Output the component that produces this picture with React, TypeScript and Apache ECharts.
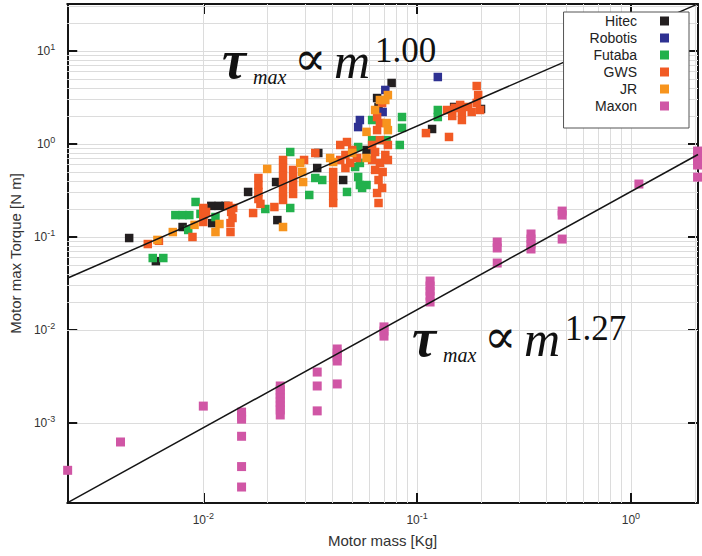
import React, { useEffect, useRef } from "react";
import * as echarts from "echarts";

// Axis extents (log scales)
const X_MIN = 0.00231;
const X_MAX = 2.06;
const Y_MIN = 1.38e-4;
const Y_MAX = 32;

// [mass kg, max torque N m]
const hitec: number[][] = [
  [0.0045, 0.0975], [0.006, 0.055], [0.008, 0.128], [0.0109, 0.216], [0.0118, 0.216],
  [0.0127, 0.216], [0.011, 0.141], [0.0162, 0.305], [0.0219, 0.39], [0.0222, 0.152],
  [0.0341, 0.552], [0.0345, 0.8], [0.0451, 0.41], [0.058, 0.862], [0.065, 3.12],
  [0.066, 2.5], [0.076, 4.53], [0.1175, 1.45], [0.149, 2.5], [0.199, 2.38],
];
const robotis: number[][] = [
  [0.053, 1.52], [0.054, 1.81], [0.069, 2.21], [0.071, 3.81], [0.125, 5.25],
];
const futaba: number[][] = [
  [0.0058, 0.0594], [0.0065, 0.0594], [0.0074, 0.172], [0.008, 0.172], [0.0086, 0.172],
  [0.0085, 0.119], [0.0092, 0.238], [0.0097, 0.177], [0.0114, 0.164], [0.0195, 0.2],
  [0.0255, 0.205], [0.0255, 0.82], [0.0313, 0.283], [0.0334, 0.431], [0.036, 0.41],
  [0.047, 0.305], [0.053, 0.442], [0.054, 0.362], [0.058, 0.362], [0.0553, 0.337],
  [0.0513, 0.566], [0.0616, 1.1], [0.0616, 1.81], [0.053, 0.928], [0.054, 0.625],
  [0.072, 1.1], [0.083, 0.976], [0.085, 1.49], [0.085, 1.95], [0.125, 2.32], [0.125, 1.95],
];
const gws: number[][] = [
  [0.0055, 0.084], [0.0062, 0.091], [0.0089, 0.1], [0.01, 0.205], [0.01, 0.172],
  [0.01, 0.145], [0.0103, 0.186], [0.0131, 0.216], [0.0135, 0.186], [0.0137, 0.16],
  [0.0138, 0.205], [0.0134, 0.141], [0.0134, 0.113], [0.0171, 0.181], [0.0181, 0.431],
  [0.0181, 0.362], [0.0181, 0.305], [0.0181, 0.256], [0.0185, 0.227], [0.0215, 0.21],
  [0.0236, 0.673], [0.0236, 0.552], [0.0236, 0.453], [0.0236, 0.371], [0.0236, 0.305],
  [0.0236, 0.25], [0.0263, 0.526], [0.0263, 0.431], [0.0263, 0.353], [0.0263, 0.29],
  [0.0296, 0.673], [0.0334, 0.8], [0.0405, 0.5], [0.0405, 0.41], [0.0405, 0.337],
  [0.0405, 0.276], [0.0405, 0.232], [0.0437, 0.976], [0.047, 1.05], [0.0497, 0.862],
  [0.0462, 0.762], [0.0437, 0.673], [0.0486, 0.625], [0.0524, 0.707], [0.0462, 0.552],
  [0.0616, 0.976], [0.067, 1.1], [0.073, 0.976], [0.0636, 0.82], [0.071, 0.762],
  [0.0616, 0.673], [0.067, 0.625], [0.073, 0.673], [0.0636, 0.526], [0.069, 0.5],
  [0.066, 0.41], [0.0686, 0.337], [0.065, 0.297], [0.066, 0.232], [0.065, 1.95],
  [0.067, 1.68], [0.065, 1.41], [0.0686, 2.76], [0.11, 1.31], [0.141, 1.19],
  [0.138, 2.32], [0.146, 2.0], [0.15, 2.44], [0.159, 2.63], [0.162, 2.21],
  [0.162, 1.81], [0.173, 2.5], [0.18, 2.21], [0.19, 2.76], [0.193, 3.36],
  [0.197, 2.32], [0.19, 4.2],
];
const jr: number[][] = [
  [0.0061, 0.093], [0.0072, 0.113], [0.0091, 0.135], [0.0119, 0.138], [0.0114, 0.113],
  [0.0236, 0.128], [0.0199, 0.539], [0.0284, 0.625], [0.0293, 0.39], [0.029, 0.5],
  [0.0392, 0.707], [0.0405, 0.64], [0.0497, 0.8], [0.058, 0.707], [0.058, 1.35],
  [0.0636, 2.32], [0.072, 1.68], [0.073, 1.41], [0.073, 3.36], [0.067, 2.97], [0.071, 2.97],
];
const maxon: number[][] = [
  [0.00232, 3.1e-4], [0.0041, 6.25e-4], [0.01, 1.52e-3],
  [0.0151, 1.31e-3], [0.0151, 1.19e-3], [0.0151, 1.1e-3], [0.0151, 7.2e-4], [0.0151, 3.4e-4], [0.0151, 2.05e-4],
  [0.0229, 2.5e-3], [0.0229, 2.27e-3], [0.0229, 2.05e-3], [0.0229, 1.86e-3], [0.0229, 1.68e-3],
  [0.0229, 1.52e-3], [0.0229, 1.38e-3], [0.0229, 1.22e-3],
  [0.0341, 3.53e-3], [0.0341, 2.5e-3], [0.0341, 1.35e-3],
  [0.0423, 6.25e-3], [0.0423, 5.66e-3], [0.0423, 5.13e-3], [0.0423, 4.64e-3], [0.0423, 2.63e-3],
  [0.07, 0.0108], [0.07, 0.00975], [0.07, 0.0086],
  [0.115, 0.0336], [0.115, 0.0297], [0.115, 0.0262], [0.115, 0.0232], [0.115, 0.02],
  [0.237, 0.0883], [0.237, 0.0762], [0.237, 0.0525],
  [0.341, 0.1077], [0.341, 0.095], [0.341, 0.084], [0.341, 0.0743],
  [0.477, 0.19], [0.477, 0.172], [0.477, 0.095],
  [1.09, 0.371],
  [2.05, 0.84], [2.05, 0.74], [2.05, 0.66], [2.05, 0.594], [2.05, 0.44],
];

const SERIES_NAMES = ["Hitec", "Robotis", "Futaba", "GWS", "JR", "Maxon"];
const SERIES_DATA = [hitec, robotis, futaba, gws, jr, maxon];
const SERIES_COLORS = ["#231f20", "#2e3192", "#22b14c", "#f15a24", "#f7941d", "#d056a5"];

// Power-law fits: tau = coef * m^exp
const FIT_SERVO = { coef: 15.6, exp: 1.0 };
const FIT_MAXON = { coef: 0.308, exp: 1.27 };

const SANS = '"Liberation Sans", Arial, Helvetica, sans-serif';
const SERIF = '"Liberation Serif", "DejaVu Serif", serif';
const GRID_COLOR = "#dcdcdc";
const AXIS_COLOR = "#151515";

function fitLine(f: { coef: number; exp: number }) {
  return [X_MIN, X_MAX].map((m) => [m, f.coef * Math.pow(m, f.exp)]);
}

function minorValues(lo: number, hi: number) {
  const out: number[] = [];
  for (let e = -6; e <= 3; e++) {
    for (let k = 2; k <= 9; k++) {
      const v = k * Math.pow(10, e);
      if (v > lo && v < hi) out.push(v);
    }
  }
  return out;
}

function expLabel(v: number) {
  const e = Math.round(Math.log10(v));
  return `{b|10}{s|${e}}`;
}

const labelRich = {
  b: { fontSize: 12, fontFamily: SANS, color: "#333" },
  s: { fontSize: 9, fontFamily: SANS, color: "#333", padding: [0, 0, 8, 0] },
};

function annotation(x0: number, base: number, expo: string) {
  const fill = "#111";
  return [
    { type: "text", x: x0, y: base - 17.7, z: 100,
      style: { text: "τ", fontFamily: SERIF, fontSize: 54, fontStyle: "italic", fontWeight: "bold", fill, verticalAlign: "middle", align: "left" } },
    { type: "text", x: x0 + 31, y: base + 6 - 6.8, z: 100,
      style: { text: "max", fontFamily: SERIF, fontSize: 20, fontStyle: "italic", fill, verticalAlign: "middle", align: "left" } },
    { type: "text", x: x0 + 72, y: base - 20, z: 100,
      style: { text: "∝", fontFamily: '"DejaVu Serif", serif', fontSize: 48, fill, verticalAlign: "middle", align: "left" } },
    { type: "text", x: x0 + 112, y: base - 17, z: 100,
      style: { text: "m", fontFamily: SERIF, fontSize: 50, fontStyle: "italic", fill, verticalAlign: "middle", align: "left" } },
    { type: "text", x: x0 + 153, y: base - 16 - 11.5, z: 100,
      style: { text: expo, fontFamily: SERIF, fontSize: 35, fill, verticalAlign: "middle", align: "left" } },
  ];
}

export default function App() {
  const ref = useRef<HTMLDivElement>(null);

  useEffect(() => {
    if (!ref.current) return;
    const chart = echarts.init(ref.current, undefined, { renderer: "svg" });

    const xBase: any = {
      type: "log",
      logBase: 10,
      min: X_MIN,
      max: X_MAX,
      axisLine: { show: true, onZero: false, lineStyle: { color: AXIS_COLOR, width: 2 } },
      axisTick: { show: true, inside: true, length: 10, lineStyle: { color: AXIS_COLOR, width: 2 } },
      splitLine: { show: false },
      minorTick: { show: false },
    };
    const yBase: any = { ...xBase, min: Y_MIN, max: Y_MAX };

    const scatterSeries = SERIES_NAMES.map((name, i) => ({
      name,
      type: "scatter",
      data: SERIES_DATA[i],
      symbol: "rect",
      symbolSize: name === "Maxon" ? 9 : 8.5,
      itemStyle: { color: SERIES_COLORS[i], opacity: 1 },
      emphasis: { disabled: true },
      z: 3,
    }));

    const option: any = {
      animation: false,
      backgroundColor: "#ffffff",
      grid: { left: 67, right: 4, top: 4, bottom: 53, containLabel: false },
      legend: {
        data: SERIES_NAMES,
        orient: "vertical",
        right: 13,
        top: 12,
        align: "right",
        icon: "rect",
        itemWidth: 9,
        itemHeight: 9,
        itemGap: 3,
        padding: [2, 20, 15, 26],
        backgroundColor: "#ffffff",
        borderColor: "#555",
        borderWidth: 1,
        selectedMode: false,
        textStyle: { fontFamily: SANS, fontSize: 14, color: "#222", lineHeight: 14, padding: [0, 18, 0, 0] },
        z: 50,
      },
      xAxis: [
        {
          ...xBase,
          position: "bottom",
          name: "Motor mass [Kg]",
          nameLocation: "middle",
          nameGap: 30,
          nameTextStyle: { fontFamily: SANS, fontSize: 15, color: "#333" },
          splitLine: { show: true, lineStyle: { color: GRID_COLOR, width: 1 } },
          axisLabel: { show: true, margin: 8, showMinLabel: false, showMaxLabel: false, formatter: expLabel, rich: labelRich },
        },
        { ...xBase, position: "top", axisLabel: { show: false } },
      ],
      yAxis: [
        {
          ...yBase,
          position: "left",
          name: "Motor max Torque [N m]",
          nameLocation: "middle",
          nameGap: 37,
          nameRotate: 90,
          nameTextStyle: { fontFamily: SANS, fontSize: 15, color: "#333" },
          splitLine: { show: true, lineStyle: { color: GRID_COLOR, width: 1 } },
          axisLabel: { show: true, margin: 12, showMinLabel: false, showMaxLabel: false, formatter: expLabel, rich: labelRich },
        },
        { ...yBase, position: "right", axisLabel: { show: false } },
      ],
      series: [
        {
          name: "grid-minor",
          type: "line",
          data: [],
          silent: true,
          markLine: {
            silent: true,
            z: 1,
            symbol: ["none", "none"],
            label: { show: false },
            emphasis: { disabled: true },
            lineStyle: { color: GRID_COLOR, width: 1, type: "solid" },
            data: [
              ...minorValues(X_MIN, X_MAX).map((v) => ({ xAxis: v })),
              ...minorValues(Y_MIN, Y_MAX).map((v) => ({ yAxis: v })),
            ],
          },
        },
        ...scatterSeries,
        {
          name: "fit-servo",
          type: "line",
          data: fitLine(FIT_SERVO),
          symbol: "none",
          silent: true,
          lineStyle: { color: AXIS_COLOR, width: 1.5 },
          z: 4,
        },
        {
          name: "fit-maxon",
          type: "line",
          data: fitLine(FIT_MAXON),
          symbol: "none",
          silent: true,
          lineStyle: { color: AXIS_COLOR, width: 1.5 },
          z: 4,
        },
      ],
      graphic: [
        ...annotation(222, 78, FIT_SERVO.exp.toFixed(2)),
        ...annotation(412, 356, FIT_MAXON.exp.toFixed(2)),
      ],
    };

    chart.setOption(option);
    return () => chart.dispose();
  }, []);

  return (
    <div
      ref={ref}
      style={{ position: "fixed", left: 0, top: 0, width: 702, height: 556, background: "#fff" }}
    />
  );
}
